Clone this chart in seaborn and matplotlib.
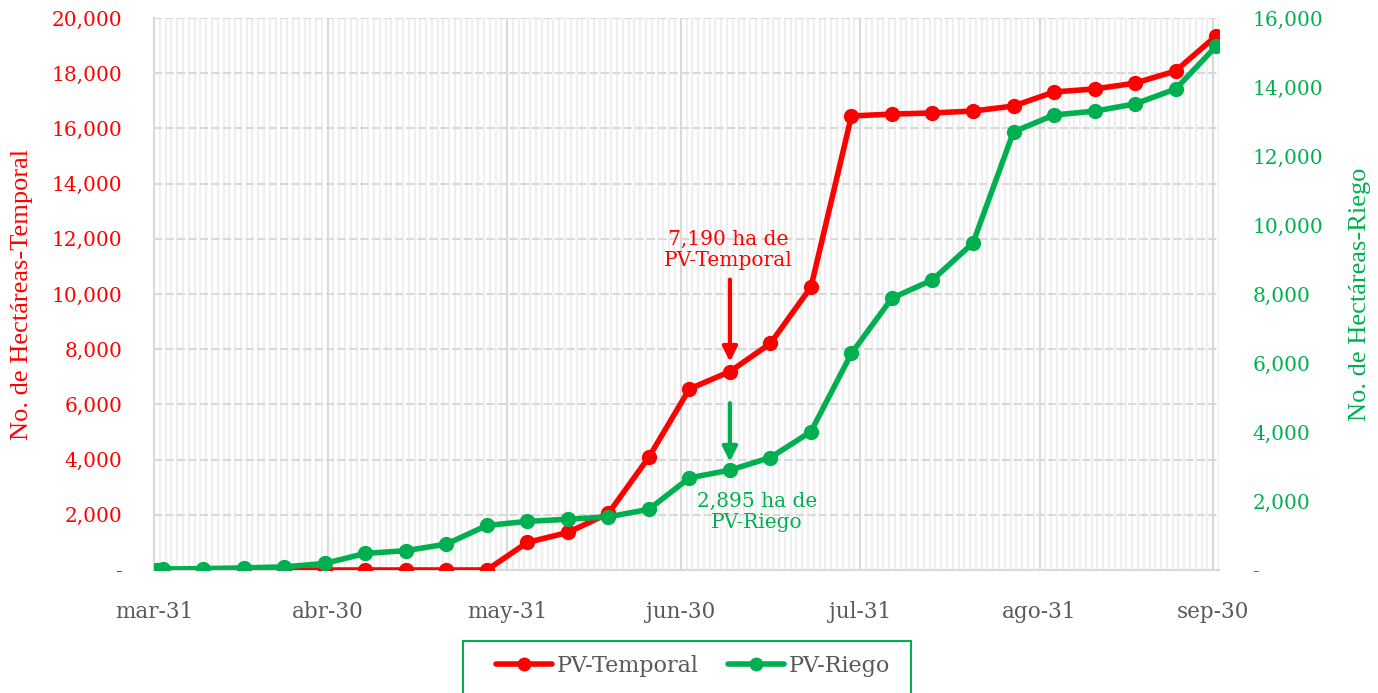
import pandas as pd
import matplotlib
matplotlib.use("Agg")
import matplotlib.pyplot as plt
import matplotlib.dates as mdates
from matplotlib.lines import Line2D
from matplotlib.patches import Rectangle
import seaborn as sns

# weekly cumulative hectares (PV = primavera-verano)
fechas = ["2021-03-31", "2021-04-01", "2021-04-08", "2021-04-15", "2021-04-22",
          "2021-04-29", "2021-05-06", "2021-05-13", "2021-05-20", "2021-05-27",
          "2021-06-03", "2021-06-10", "2021-06-17", "2021-06-24", "2021-07-01",
          "2021-07-08", "2021-07-15", "2021-07-22", "2021-07-29", "2021-08-05",
          "2021-08-12", "2021-08-19", "2021-08-26", "2021-09-02", "2021-09-09",
          "2021-09-16", "2021-09-23", "2021-09-30"]
temporal = [0, 0, 0, 0, 0, 0, 0, 0, 0, 0,
            1000, 1360, 2050, 4090, 6560, 7190, 8210, 10250, 16450, 16520,
            16560, 16630, 16810, 17320, 17430, 17640, 18080, 19350]
riego = [0, 30, 40, 60, 90, 190, 480, 560, 750, 1290,
         1410, 1470, 1540, 1760, 2670, 2895, 3260, 4010, 6280, 7880,
         8410, 9480, 12700, 13190, 13300, 13510, 13940, 15180]

mes_ticks = ["2021-03-31", "2021-04-30", "2021-05-31", "2021-06-30",
             "2021-07-31", "2021-08-31", "2021-09-30"]
mes_labels = ["mar-31", "abr-30", "may-31", "jun-30", "jul-31", "ago-31", "sep-30"]

# reports are plotted at midday
df = pd.DataFrame({"fecha": pd.to_datetime(fechas) + pd.Timedelta(hours=12),
                   "temporal": temporal, "riego": riego})

ROJO = "#FF0000"
VERDE = "#00B050"
GRIS = "#595959"

sns.set_theme(style="white")
plt.rcParams["font.family"] = ["DejaVu Serif"]

fig, ax = plt.subplots(figsize=(13.78, 6.93), dpi=100)
fig.subplots_adjust(left=0.1118, right=0.8846, top=0.974, bottom=0.1775)
ax2 = ax.twinx()

sns.lineplot(data=df, x="fecha", y="temporal", ax=ax, color=ROJO, lw=4,
             marker="o", markersize=11, markeredgewidth=0, zorder=3)
sns.lineplot(data=df, x="fecha", y="riego", ax=ax2, color=VERDE, lw=4,
             marker="o", markersize=11, markeredgewidth=0, zorder=3)

# axes ranges
ax.set_xlim(pd.Timestamp("2021-03-31"), pd.Timestamp("2021-10-01"))
ax.set_ylim(0, 20000)
ax2.set_ylim(0, 16000)

fmt = lambda v, p: "-" if v == 0 else f"{v:,.0f}"
ax.set_yticks(range(0, 20001, 2000))
ax2.set_yticks(range(0, 16001, 2000))
ax.yaxis.set_major_formatter(plt.FuncFormatter(fmt))
ax2.yaxis.set_major_formatter(plt.FuncFormatter(fmt))

ax.set_xticks(pd.to_datetime(mes_ticks))
ax.set_xticklabels(mes_labels)
ax.xaxis.set_minor_locator(mdates.DayLocator())

ax.tick_params(axis="x", which="major", length=6, color="#d9d9d9", width=1.5,
               pad=16, labelsize=15.5, labelcolor=GRIS)
ax.tick_params(axis="x", which="minor", length=0)
ax.tick_params(axis="y", length=0, pad=23, labelsize=14.5, labelcolor=ROJO)
ax2.tick_params(axis="y", length=0, pad=24, labelsize=14.5, labelcolor=VERDE)

# grid: daily minor lines, month lines, dashed horizontals
ax.grid(axis="x", which="minor", color="#efefef", lw=1.6)
ax.grid(axis="x", which="major", color="#d9d9d9", lw=1.5)
ax.grid(axis="y", which="major", color="#d9d9d9", lw=1.5, ls=(0, (4, 1.5)))
ax.set_axisbelow(True)

for s in ["top", "right"]:
    ax.spines[s].set_visible(False)
for s in ["top", "right", "left", "bottom"]:
    ax2.spines[s].set_visible(False)
for s in ["left", "bottom"]:
    ax.spines[s].set_color("#d9d9d9")
    ax.spines[s].set_linewidth(1.5)

ax.set_xlabel("")
ax.set_ylabel("No. de Hectáreas-Temporal", color=ROJO, fontsize=19,
              family=["Liberation Serif"], labelpad=13)
ax2.set_ylabel("No. de Hectáreas-Riego", color=VERDE, fontsize=19,
               family=["Liberation Serif"], labelpad=19)

# annotations
d_ann = df["fecha"].iloc[15]
ax.annotate("7,190 ha de\nPV-Temporal", xy=(d_ann, 7190), xytext=(-2, 122),
            textcoords="offset pixels", ha="center", va="center",
            color=ROJO, fontsize=14.5, linespacing=1.15)
ax.annotate("", xy=(d_ann, 7190), xytext=(0, 92), textcoords="offset pixels",
            arrowprops=dict(arrowstyle="-|>", color=ROJO, lw=3,
                            mutation_scale=22, shrinkA=0, shrinkB=7))
ax2.annotate("2,895 ha de\nPV-Riego", xy=(d_ann, 2895), xytext=(27, -42),
             textcoords="offset pixels", ha="center", va="center",
             color=VERDE, fontsize=14.5, linespacing=1.15)
ax2.annotate("", xy=(d_ann, 2895), xytext=(0, 67), textcoords="offset pixels",
             arrowprops=dict(arrowstyle="-|>", color=VERDE, lw=3,
                             mutation_scale=22, shrinkA=0, shrinkB=6))

# legend below, with its own box
handles = [Line2D([], [], color=ROJO, lw=4, marker="o", markersize=9),
           Line2D([], [], color=VERDE, lw=4, marker="o", markersize=9)]
fig.legend(handles, ["PV-Temporal", "PV-Riego"], loc="center",
           bbox_to_anchor=(0.503, 0.039), ncol=2, fontsize=16,
           frameon=False, handlelength=2.5, handletextpad=0.2,
           columnspacing=1.35, labelcolor=GRIS)
fig.patches.append(Rectangle((0.336, -0.02), 0.325, 0.095, transform=fig.transFigure,
                             fill=False, edgecolor=VERDE, lw=1.5))

fig.savefig("out.png", dpi=100)
